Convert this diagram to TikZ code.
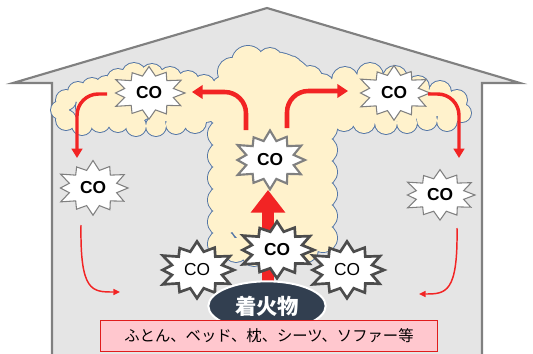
\documentclass[tikz,border=0pt]{standalone}
\usepackage{fontspec}
\setmainfont{Liberation Sans}
\newfontfamily\jp{Noto Sans CJK JP}
\usetikzlibrary{arrows.meta,shapes.geometric}

\definecolor{wallgray}{RGB}{229,229,229}
\definecolor{roofgray}{RGB}{128,128,128}
\definecolor{smoke}{RGB}{255,242,204}
\definecolor{smokeline}{RGB}{84,118,166}
\definecolor{flowred}{RGB}{242,36,36}
\definecolor{navy}{RGB}{50,63,80}
\definecolor{bedpink}{RGB}{255,199,206}
\definecolor{bedred}{RGB}{224,28,28}

\tikzset{
    declare function={burstr(\k)=ifthenelse(mod(\k,2)==0,1-0.07*sin(\k*97),0.7);},
    burst/.style={fill=white, draw=roofgray, line width=0.8pt},
    burst mid/.style={burst, line width=1.6pt},
    burst dark/.style={burst, draw=black!70, line width=2pt},
    co/.style={font=\fontsize{13}{13}\selectfont\bfseries},
    co thin/.style={font=\fontsize{13}{13}\selectfont},
    flow/.style={draw=flowred, line width=3.4pt, rounded corners=16pt, -{Triangle[width=10pt,length=8pt]}},
    drip/.style={draw=flowred, line width=2.6pt, rounded corners=16pt, -{Triangle[width=8pt,length=7pt]}},
    seep/.style={draw=flowred, line width=1.1pt, -{Triangle[width=4.5pt,length=5pt]}},
}

\begin{document}
\begin{tikzpicture}[x=0.75pt, y=-0.75pt]
    \useasboundingbox (0,0) rectangle (533,354);

    % House outline
    \fill[wallgray] (52,356) -- (52,83) -- (13,83) -- (267,8) -- (520,83) -- (482,83) -- (482,356) -- cycle;
    \draw[roofgray, line width=1.6pt] (52,356) -- (52,83) -- (13,83) -- (267,8) -- (520,83) -- (482,83) -- (482,356);

    % Smoke: one path of circles, outline drawn first then covered by the fill
    \path[fill=smoke, preaction={draw=smokeline, line width=1.4pt}]
        % rising column: body, sides and top bumps
        \foreach \cy in {100,115,...,205} { (272,\cy) circle (48) }
        \foreach \cy in {112,134,...,244} { (222,\cy) circle (14) (323,\cy-6) circle (14) }
        \foreach \cx/\cy/\r in {
            232/72/14, 248/62/16, 270/60/12, 290/68/12, 310/78/12, 224/88/12,
            236/250/12, 254/254/12, 272/254/12, 290/254/12, 306/250/12,
            % left layer under the ceiling
            60/110/9, 66/100/10, 78/92/10, 92/88/10, 106/86/10, 118/80/11, 134/75/12, 152/75/11,
            170/78/11, 188/82/11, 204/86/11,
            66/120/10, 82/125/10, 100/122/10, 118/122/10, 136/126/10, 156/126/10, 176/124/10, 195/122/11,
            90/107/14, 112/104/18, 135/100/22, 160/100/22, 185/102/20, 205/104/18,
            % right layer under the ceiling
            322/86/12, 345/80/13, 370/76/13, 395/78/12, 418/87/11, 440/92/11, 457/100/10,
            462/113/9, 447/121/10, 427/120/10, 407/123/10, 386/123/11, 364/122/11, 344/120/11,
            330/104/18, 352/100/22, 378/100/22, 402/102/20, 425/105/16, 445/107/12, 456/108/9
        } { (\cx,\cy) circle (\r) };

    % Gas drifting down the walls
    \coordinate (lwall) at (81,225);
    \coordinate (lfloor) at (120,292);
    \coordinate (rwall) at (457,228);
    \coordinate (rfloor) at (419,294);
    \draw[seep] (lwall) .. controls (80,292) and (92,292) .. (lfloor);
    \draw[seep] (rwall) .. controls (458,293) and (446,294) .. (rfloor);

    % CO bursts in the room
    \foreach \nm/\cx/\cy/\rx/\ry/\sty in {cotl/149/93/36/25/burst, cotr/394/93/36/26/burst,
            cotop/270/160/35/28/burst mid, coml/93/188/35/26/burst, comr/440/195/35/24/burst} {
        \draw[\sty] plot[samples at={0,...,23}, variable=\k]
            ({\cx+burstr(\k)*\rx*cos(\k*15)}, {\cy+burstr(\k)*\ry*sin(\k*15)}) -- cycle;
        \node[co] (\nm) at (\cx,\cy) {CO};
    }

    % Spreading along the ceiling
    \coordinate (upl) at (246,130);
    \coordinate (ceill) at (192,92);
    \coordinate (upr) at (287,128);
    \coordinate (ceilr) at (348,91);
    \draw[flow] (upl) |- (ceill);
    \draw[flow] (upr) |- (ceilr);

    \coordinate (cornl) at (107,94);
    \coordinate (downl) at (77,158);
    \coordinate (cornr) at (428,94);
    \coordinate (downr) at (459,158);
    \draw[drip] (cornl) -| (downl);
    \draw[drip] (cornr) -| (downr);

    % Rising from the fire
    \coordinate (base) at (268,286);
    \coordinate (rise) at (268,190);
    \draw[flowred, line width=8.3pt, -{Triangle[width=25pt,length=17pt]}] (base) -- (rise);

    \foreach \nm/\cx/\cy/\sty in {cobl/197/270/co thin, cobr/347/270/co thin, cobc/277/250/co} {
        \draw[burst dark] plot[samples at={0,...,23}, variable=\k]
            ({\cx+burstr(\k)*37*cos(\k*15)}, {\cy+burstr(\k)*27*sin(\k*15)}) -- cycle;
        \node[\sty] (\nm) at (\cx,\cy) {CO};
    }

    % Burning item and what it may be
    \node[ellipse, fill=navy, draw=white, line width=1.5pt, minimum width=88pt, minimum height=37pt,
          text=white, font=\jp\fontsize{16}{16}\selectfont\bfseries] (fire) at (267,306) {着火物};
    \node[fill=bedpink, draw=bedred, line width=1.2pt, minimum width=253pt, minimum height=23pt,
          inner sep=0pt, font=\jp\fontsize{11.5}{11.5}\selectfont] (bed) at (269,336) {ふとん、ベッド、枕、シーツ、ソファー等};
\end{tikzpicture}
\end{document}
